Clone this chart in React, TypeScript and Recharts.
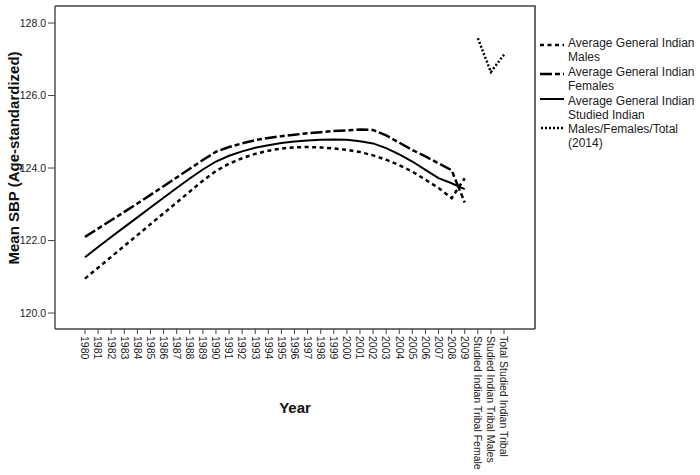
import { LineChart, Line, XAxis, YAxis, Label } from 'recharts';

const years = [
  '1980', '1981', '1982', '1983', '1984', '1985', '1986', '1987', '1988', '1989',
  '1990', '1991', '1992', '1993', '1994', '1995', '1996', '1997', '1998', '1999',
  '2000', '2001', '2002', '2003', '2004', '2005', '2006', '2007', '2008', '2009',
];
const studiedCats = ['Studied Indian Tribal Female', 'Studied Indian Tribal Males', 'Total Studied Indian Tribal'];

const generalMales = [
  120.95, 121.25, 121.55, 121.85, 122.15, 122.45, 122.75, 123.05, 123.35, 123.65,
  123.92, 124.12, 124.27, 124.39, 124.48, 124.54, 124.57, 124.58, 124.57, 124.54,
  124.5, 124.44, 124.35, 124.23, 124.08, 123.9, 123.68, 123.45, 123.17, 123.72,
];
const generalFemales = [
  122.1, 122.33, 122.56, 122.79, 123.02, 123.26, 123.5, 123.74, 123.98, 124.22,
  124.45, 124.58, 124.68, 124.77, 124.83, 124.88, 124.92, 124.96, 124.99, 125.02,
  125.04, 125.06, 125.05, 124.9, 124.7, 124.5, 124.32, 124.13, 123.94, 123.05,
];
const generalTotal = [
  121.54, 121.82, 122.1, 122.37, 122.64, 122.91, 123.18, 123.45, 123.71, 123.96,
  124.18, 124.34, 124.46, 124.56, 124.63, 124.69, 124.73, 124.76, 124.78, 124.79,
  124.78, 124.74, 124.68, 124.55, 124.38, 124.18, 123.95, 123.72, 123.58, 123.42,
];
const studied2014 = [127.58, 126.65, 127.13];

const yTicks = [120, 122, 124, 126, 128];

const data = [
  ...years.map((cat, i) => ({
    cat,
    males: generalMales[i],
    females: generalFemales[i],
    total: generalTotal[i],
    studied: null as number | null,
  })),
  ...studiedCats.map((cat, i) => ({
    cat,
    males: null as number | null,
    females: null as number | null,
    total: null as number | null,
    studied: studied2014[i],
  })),
];

const FONT = 'Arial, "Liberation Sans", sans-serif';
const AXIS = '#444';

// plot box, matches chart margins + axis sizes below
const PLOT = { left: 55, top: 6, width: 480, height: 323 };

function XTick(props: any) {
  const { x, y, payload } = props;
  return (
    <g transform={`translate(${x},${y})`}>
      <text transform="rotate(90)" x={0} y={0} dy="0.35em" textAnchor="start" fontSize={10.5} fill="#222" fontFamily={FONT}>
        {payload.value}
      </text>
    </g>
  );
}

// top + right edges of the plot box, drawn inside the chart svg
function Frame() {
  const r = PLOT.left + PLOT.width;
  return (
    <path
      d={`M${PLOT.left} ${PLOT.top} H${r} V${PLOT.top + PLOT.height}`}
      fill="none"
      stroke={AXIS}
      strokeWidth={1.6}
    />
  );
}

function Legendbox() {
  const lines = [
    { y: 43, t: 'Average General Indian' },
    { y: 57, t: 'Males' },
    { y: 72, t: 'Average General Indian' },
    { y: 86, t: 'Females' },
    { y: 101, t: 'Average General Indian' },
    { y: 115, t: 'Studied Indian' },
    { y: 129, t: 'Males/Females/Total' },
    { y: 143, t: '(2014)' },
  ];
  return (
    <svg width={160} height={160} style={{ position: 'absolute', left: 540, top: 0, pointerEvents: 'none' }}>
      <line x1={0} x2={24} y1={45} y2={45} stroke="#000" strokeWidth={2.5} strokeDasharray="4 3.5" />
      <line x1={0} x2={24} y1={74} y2={74} stroke="#000" strokeWidth={2.5} strokeDasharray="12 3 5 3" />
      <line x1={0} x2={24} y1={99} y2={99} stroke="#000" strokeWidth={2} />
      <line x1={1} x2={24} y1={128} y2={128} stroke="#000" strokeWidth={2.5} strokeDasharray="2 2" />
      {lines.map((l, i) => (
        <text key={i} x={28} y={l.y} dy="0.35em" fontSize={12} fill="#222" fontFamily={FONT}>
          {l.t}
        </text>
      ))}
    </svg>
  );
}

export default function App() {
  return (
    <div style={{ position: 'absolute', left: 0, top: 0, width: 700, height: 475, background: '#fff' }}>
      <LineChart width={700} height={475} data={data} margin={{ top: PLOT.top, right: 700 - PLOT.left - PLOT.width, bottom: 0, left: 0 }}>
        <XAxis
          dataKey="cat"
          scale="point"
          padding={{ left: 30, right: 31 }}
          interval={0}
          height={475 - PLOT.top - PLOT.height}
          tick={<XTick />}
          tickSize={5}
          tickMargin={2}
          axisLine={{ stroke: AXIS, strokeWidth: 1.4 }}
          tickLine={{ stroke: AXIS }}
        >
          <Label
            content={() => (
              <g>
                <Frame />
                <text x={295} y={408} dy="0.35em" textAnchor="middle" fontSize={15} fontWeight="bold" fill="#111" fontFamily={FONT}>
                  Year
                </text>
              </g>
            )}
          />
        </XAxis>
        <YAxis
          type="number"
          domain={[119.56, 128.47]}
          allowDataOverflow
          ticks={yTicks}
          width={PLOT.left}
          tickSize={7}
          tickMargin={2}
          tickFormatter={(v: number) => v.toFixed(1)}
          tick={{ fontSize: 10.5, fill: '#222', fontFamily: FONT }}
          axisLine={{ stroke: AXIS, strokeWidth: 1.4 }}
          tickLine={{ stroke: AXIS }}
        >
          <Label
            content={() => (
              <text
                x={14}
                y={158}
                transform="rotate(-90 14 158)"
                dy="0.35em"
                textAnchor="middle"
                fontSize={15}
                fontWeight="bold"
                fill="#111"
                fontFamily={FONT}
              >
                Mean SBP (Age-standardized)
              </text>
            )}
          />
        </YAxis>
        <Line type="linear" dataKey="males" stroke="#000" strokeWidth={2.5} strokeDasharray="4 3.5" dot={false} isAnimationActive={false} />
        <Line type="linear" dataKey="females" stroke="#000" strokeWidth={2.5} strokeDasharray="12 3 5 3" dot={false} isAnimationActive={false} />
        <Line type="linear" dataKey="total" stroke="#000" strokeWidth={2} dot={false} isAnimationActive={false} />
        <Line type="linear" dataKey="studied" stroke="#000" strokeWidth={2.5} strokeDasharray="2 2" dot={false} isAnimationActive={false} />
      </LineChart>
      <Legendbox />
    </div>
  );
}
